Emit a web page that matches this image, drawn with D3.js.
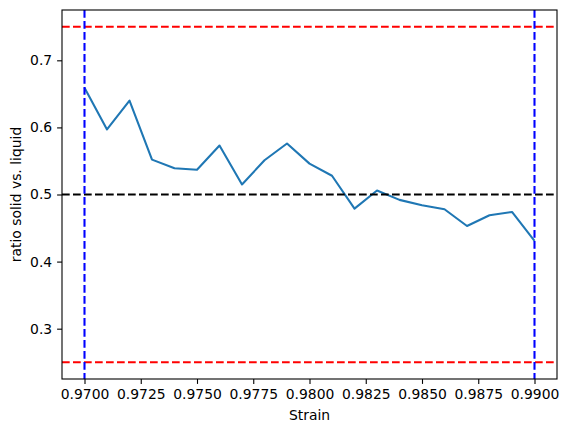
<!DOCTYPE html>
<html>
<head>
<meta charset="utf-8">
<script src="https://cdn.jsdelivr.net/npm/d3@7"></script>
<style>
	body { margin: 0; background: #fff; }
	svg { display: block; font-family: 'DejaVu Sans', sans-serif; }
</style>
</head>
<body>
<div id="chart"></div>
<script>
// data
const strain = [0.970, 0.971, 0.972, 0.973, 0.974, 0.975, 0.976, 0.977, 0.978, 0.979, 0.980,
	0.981, 0.982, 0.983, 0.984, 0.985, 0.986, 0.987, 0.988, 0.989, 0.990];
const ratio = [0.659, 0.597, 0.640, 0.552, 0.539, 0.537, 0.573, 0.515, 0.551, 0.576, 0.546,
	0.528, 0.479, 0.506, 0.492, 0.484, 0.478, 0.453, 0.469, 0.474, 0.431];
const xTicks = [0.970, 0.9725, 0.975, 0.9775, 0.980, 0.9825, 0.985, 0.9875, 0.990];
const yTicks = [0.3, 0.4, 0.5, 0.6, 0.7];
const hLines = [
	{ y: 0.5, color: '#000' },
	{ y: 0.25, color: 'red' },
	{ y: 0.75, color: 'red' }
];
const vLines = [0.970, 0.990];

const width = 569, height = 432;
const margin = { top: 10, right: 12, bottom: 53, left: 62 };
const fontSize = '13.9px';
const lw = 2.08;

const svg = d3.select('#chart').append('svg')
	.attr('width', width)
	.attr('height', height);

const x = d3.scaleLinear().domain([0.969, 0.991]).range([margin.left, width - margin.right]);
const y = d3.scaleLinear().domain([0.225, 0.775]).range([height - margin.bottom, margin.top]);

const dash = '7.7,3.3';

// clip to axes area
svg.append('clipPath').attr('id', 'clip')
	.append('rect')
	.attr('x', margin.left).attr('y', margin.top)
	.attr('width', width - margin.left - margin.right)
	.attr('height', height - margin.top - margin.bottom);

const plot = svg.append('g').attr('clip-path', 'url(#clip)');

// main line
plot.append('path')
	.datum(strain.map((s, i) => [s, ratio[i]]))
	.attr('fill', 'none')
	.attr('stroke', '#1f77b4')
	.attr('stroke-width', lw)
	.attr('stroke-linejoin', 'round')
	.attr('d', d3.line().x(d => x(d[0])).y(d => y(d[1])));

// horizontal reference lines
plot.selectAll('.hline')
	.data(hLines)
	.enter()
	.append('line')
	.attr('class', 'hline')
	.attr('x1', margin.left).attr('x2', width - margin.right)
	.attr('y1', d => y(d.y)).attr('y2', d => y(d.y))
	.attr('stroke', d => d.color)
	.attr('stroke-width', lw)
	.attr('stroke-dasharray', dash);

// vertical reference lines
plot.selectAll('.vline')
	.data(vLines)
	.enter()
	.append('line')
	.attr('class', 'vline')
	.attr('x1', d => x(d)).attr('x2', d => x(d))
	.attr('y1', margin.top).attr('y2', height - margin.bottom)
	.attr('stroke', 'blue')
	.attr('stroke-width', lw)
	.attr('stroke-dasharray', dash);

// axes
const xAxis = d3.axisBottom(x).tickValues(xTicks).tickFormat(d3.format('.4f')).tickSizeOuter(0).tickSize(4.9).tickPadding(4.9);
const yAxis = d3.axisLeft(y).tickValues(yTicks).tickFormat(d3.format('.1f')).tickSizeOuter(0).tickSize(4.9).tickPadding(4.9);

const gx = svg.append('g')
	.attr('transform', `translate(0, ${height - margin.bottom})`)
	.call(xAxis);
const gy = svg.append('g')
	.attr('transform', `translate(${margin.left}, 0)`)
	.call(yAxis);

[gx, gy].forEach(g => {
	g.select('.domain').remove();
	g.selectAll('.tick line').attr('stroke', '#000').attr('stroke-width', 1.1);
	g.selectAll('.tick text').attr('fill', '#000').style('font-size', fontSize).style('font-family', 'DejaVu Sans');
});

// frame
svg.append('rect')
	.attr('x', margin.left).attr('y', margin.top)
	.attr('width', width - margin.left - margin.right)
	.attr('height', height - margin.top - margin.bottom)
	.attr('fill', 'none')
	.attr('stroke', '#000')
	.attr('stroke-width', 1.1);

// labels
svg.append('text')
	.attr('x', (margin.left + width - margin.right) / 2)
	.attr('y', 420)
	.attr('text-anchor', 'middle')
	.style('font-size', fontSize)
	.text('Strain');

svg.append('text')
	.attr('transform', `translate(21, ${(margin.top + height - margin.bottom) / 2}) rotate(-90)`)
	.attr('text-anchor', 'middle')
	.style('font-size', fontSize)
	.text('ratio solid vs. liquid');
</script>
</body>
</html>
